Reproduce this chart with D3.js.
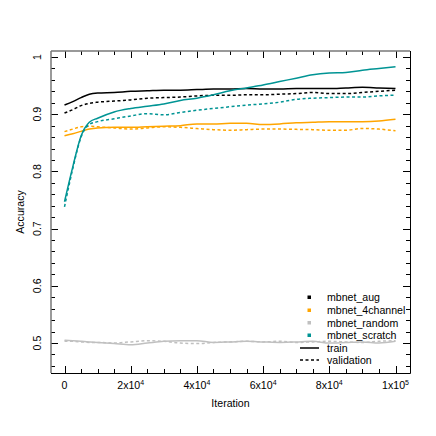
<!DOCTYPE html>
<html>
<head>
  <title>Accuracy</title>
  <meta charset="utf8">
  <style type="text/css">
    body { margin: 0; background: #fff; }
    text { font-family: "Liberation Sans", sans-serif; font-size: 10.6px; fill: #000; }
  </style>
</head>
<body>

<script src="https://d3js.org/d3.v7.min.js"></script>

<script type="text/javascript">
var width = 436, height = 436;
var plotLeft = 51, plotRight = 410, plotTop = 51, plotBottom = 373;

var iterations = [0, 2500, 5000, 7500, 10000, 15000, 20000, 25000, 30000, 35000, 40000, 45000,
  50000, 55000, 60000, 65000, 70000, 75000, 80000, 85000, 90000, 95000, 100000];

var augTrain = [0.916, 0.922, 0.929, 0.935, 0.937, 0.938, 0.940, 0.941, 0.942, 0.942, 0.943, 0.944,
  0.944, 0.945, 0.944, 0.944, 0.945, 0.945, 0.945, 0.946, 0.947, 0.946, 0.945];
var augVal = [0.902, 0.908, 0.915, 0.919, 0.921, 0.923, 0.925, 0.928, 0.929, 0.930, 0.932, 0.933,
  0.933, 0.934, 0.934, 0.935, 0.936, 0.938, 0.936, 0.936, 0.938, 0.940, 0.942];
var chanTrain = [0.8625, 0.866, 0.870, 0.874, 0.876, 0.877, 0.877, 0.878, 0.879, 0.880, 0.883, 0.883,
  0.884, 0.884, 0.882, 0.883, 0.885, 0.886, 0.887, 0.887, 0.887, 0.888, 0.891];
var chanVal = [0.8695, 0.874, 0.878, 0.879, 0.878, 0.876, 0.874, 0.876, 0.878, 0.877, 0.875, 0.873,
  0.872, 0.873, 0.874, 0.874, 0.8735, 0.873, 0.872, 0.872, 0.875, 0.874, 0.871];
var randTrain = [0.505, 0.504, 0.503, 0.502, 0.501, 0.499, 0.497, 0.500, 0.503, 0.504, 0.504, 0.501,
  0.502, 0.503, 0.502, 0.501, 0.502, 0.503, 0.500, 0.501, 0.502, 0.500, 0.503];
var randVal = [0.503, 0.503, 0.502, 0.501, 0.501, 0.500, 0.502, 0.504, 0.503, 0.500, 0.499, 0.501,
  0.502, 0.503, 0.502, 0.503, 0.501, 0.502, 0.503, 0.502, 0.501, 0.503, 0.504];
var scratchTrain = [0.747, 0.808, 0.862, 0.886, 0.893, 0.904, 0.910, 0.914, 0.918, 0.924, 0.928, 0.934,
  0.941, 0.946, 0.951, 0.957, 0.963, 0.969, 0.972, 0.973, 0.977, 0.980, 0.983];
var scratchVal = [0.738, 0.805, 0.860, 0.882, 0.887, 0.892, 0.897, 0.901, 0.899, 0.903, 0.907, 0.910,
  0.913, 0.916, 0.918, 0.921, 0.926, 0.928, 0.929, 0.930, 0.930, 0.932, 0.9335];

var models = ['mbnet_aug', 'mbnet_4channel', 'mbnet_random', 'mbnet_scratch'];
var colors = ['#000000', '#ffa500', '#c0c0c0', '#009494'];
var trainSeries = [augTrain, chanTrain, randTrain, scratchTrain];
var valSeries = [augVal, chanVal, randVal, scratchVal];

var xTicks = [0, 20000, 40000, 60000, 80000, 100000];
var xTickLabels = [['0', ''], ['2x10', '4'], ['4x10', '4'], ['6x10', '4'], ['8x10', '4'], ['1x10', '5']];
var yTicks = [0.5, 0.6, 0.7, 0.8, 0.9, 1];
var yTickLabels = ['0.5', '0.6', '0.7', '0.8', '0.9', '1'];

var x = d3.scaleLinear().domain([-4080, 104380]).range([plotLeft, plotRight]);
var y = d3.scaleLinear().domain([0.4476, 1.0105]).range([plotBottom, plotTop]);

var svg = d3.select('body').append('svg')
    .attr('width', width)
    .attr('height', height);

svg.append('clipPath').attr('id', 'clip')
  .append('rect')
  .attr('x', plotLeft).attr('y', plotTop)
  .attr('width', plotRight - plotLeft).attr('height', plotBottom - plotTop);

// ticks, all four sides
var xMinor = d3.range(0, 100001, 5000);
var yMinor = d3.range(0.46, 1.001, 0.02);

function isMajorX(d) { return d % 20000 === 0; }
function isMajorY(d) { return Math.abs(d * 10 - Math.round(d * 10)) < 1e-6; }

var ticks = svg.append('g').attr('stroke', '#000').attr('stroke-width', 1);

xMinor.forEach(function(d) {
  var len = isMajorX(d) ? 7 : 4;
  var px = Math.round(x(d)) + 0.5;
  ticks.append('line').attr('x1', px).attr('x2', px).attr('y1', plotBottom).attr('y2', plotBottom - len);
  ticks.append('line').attr('x1', px).attr('x2', px).attr('y1', plotTop).attr('y2', plotTop + len);
});
yMinor.forEach(function(d) {
  var len = isMajorY(d) ? 7 : 4;
  var py = Math.round(y(d)) + 0.5;
  ticks.append('line').attr('x1', plotLeft).attr('x2', plotLeft + len).attr('y1', py).attr('y2', py);
  ticks.append('line').attr('x1', plotRight).attr('x2', plotRight - len).attr('y1', py).attr('y2', py);
});

// frame
svg.append('line').attr('x1', plotLeft).attr('x2', plotLeft).attr('y1', plotTop).attr('y2', plotBottom)
  .attr('stroke', '#777').attr('stroke-width', 1.5);
svg.append('line').attr('x1', plotLeft).attr('x2', plotRight).attr('y1', plotTop).attr('y2', plotTop)
  .attr('stroke', '#777').attr('stroke-width', 1.5);
svg.append('line').attr('x1', plotLeft).attr('x2', plotRight + 0.5).attr('y1', plotBottom + 0.5).attr('y2', plotBottom + 0.5)
  .attr('stroke', '#000');
svg.append('line').attr('x1', plotRight + 0.5).attr('x2', plotRight + 0.5).attr('y1', plotTop).attr('y2', plotBottom + 0.5)
  .attr('stroke', '#000');

// tick labels
xTicks.forEach(function(d, i) {
  var t = svg.append('text')
    .attr('x', x(d))
    .attr('y', 389)
    .attr('text-anchor', 'middle');
  t.append('tspan').text(xTickLabels[i][0]);
  if (xTickLabels[i][1]) {
    t.append('tspan').attr('dy', -4).style('font-size', '7px').text(xTickLabels[i][1]);
  }
});

yTicks.forEach(function(d, i) {
  svg.append('text')
    .attr('transform', 'translate(41,' + y(d) + ') rotate(-90)')
    .attr('text-anchor', 'middle')
    .text(yTickLabels[i]);
});

svg.append('text')
  .attr('x', (plotLeft + plotRight) / 2)
  .attr('y', 407)
  .attr('text-anchor', 'middle')
  .text('Iteration');

svg.append('text')
  .attr('transform', 'translate(24,' + (plotTop + plotBottom) / 2 + ') rotate(-90)')
  .attr('text-anchor', 'middle')
  .text('Accuracy');

// lines
var line = d3.line()
  .x(function(d, i) { return x(iterations[i]); })
  .y(function(d) { return y(d); })
  .curve(d3.curveMonotoneX);

var plot = svg.append('g').attr('clip-path', 'url(#clip)');

models.forEach(function(m, k) {
  plot.append('path')
    .datum(trainSeries[k])
    .attr('d', line)
    .attr('fill', 'none')
    .attr('stroke', colors[k])
    .attr('stroke-width', 1.5);
  plot.append('path')
    .datum(valSeries[k])
    .attr('d', line)
    .attr('fill', 'none')
    .attr('stroke', colors[k])
    .attr('stroke-width', 1.5)
    .attr('stroke-dasharray', '3,2.5');
});

// legend
var legend = svg.append('g');
var rowY = [297.5, 310.5, 323, 335.5, 348, 360];

models.forEach(function(m, k) {
  legend.append('rect')
    .attr('x', 307.5).attr('y', rowY[k] - 2)
    .attr('width', 3.5).attr('height', 3.5)
    .attr('fill', colors[k]);
  legend.append('text')
    .attr('x', 327).attr('y', rowY[k] + 3.7)
    .text(m);
});

legend.append('line')
  .attr('x1', 300).attr('x2', 319).attr('y1', rowY[4]).attr('y2', rowY[4])
  .attr('stroke', '#000').attr('stroke-width', 1.5);
legend.append('text').attr('x', 327).attr('y', rowY[4] + 3.7).text('train');

legend.append('line')
  .attr('x1', 300).attr('x2', 319).attr('y1', rowY[5]).attr('y2', rowY[5])
  .attr('stroke', '#000').attr('stroke-width', 1.5)
  .attr('stroke-dasharray', '3,2.5');
legend.append('text').attr('x', 327).attr('y', rowY[5] + 3.7).text('validation');

</script>

</body>
</html>
